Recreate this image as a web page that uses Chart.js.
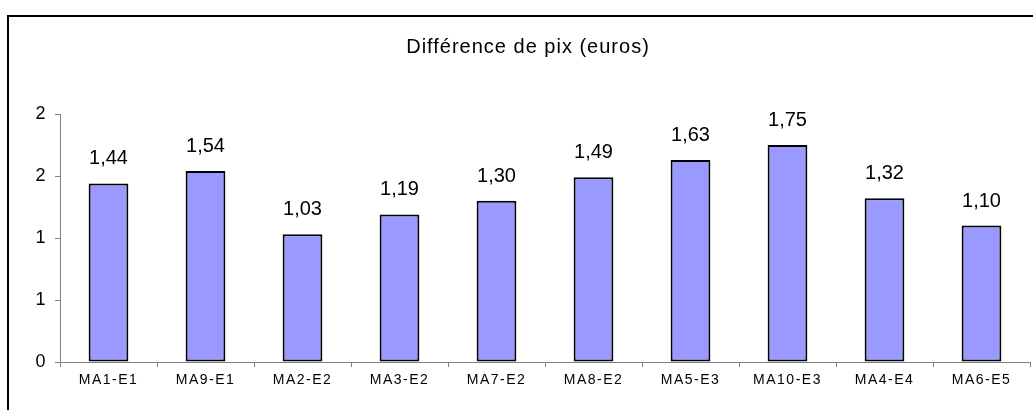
<!DOCTYPE html>
<html>
<head>
<meta charset="utf-8">
<script src="https://cdn.jsdelivr.net/npm/chart.js@4.4.0/dist/chart.umd.min.js"></script>
<style>
  html, body { margin: 0; padding: 0; background: #fff; overflow: hidden; width: 1033px; height: 410px; }
  #frame { position: absolute; left: 7px; top: 15px; width: 1100px; height: 500px; border: 2px solid #000; box-sizing: border-box; }
  #wrap { position: absolute; left: 0; top: 0; width: 1033px; height: 410px; }
</style>
</head>
<body>
<div id="frame"></div>
<div id="wrap"><canvas id="c" width="1033" height="410"></canvas></div>
<script>
const categories = ['MA1-E1', 'MA9-E1', 'MA2-E2', 'MA3-E2', 'MA7-E2', 'MA8-E2', 'MA5-E3', 'MA10-E3', 'MA4-E4', 'MA6-E5'];
const values = [1.44, 1.54, 1.03, 1.19, 1.30, 1.49, 1.63, 1.75, 1.32, 1.10];
const tickValues = [0, 0.5, 1, 1.5, 2];
const tickLabels = ['0', '1', '1', '2', '2'];
const chartTitle = 'Différence de pix (euros)';

const FONT = '"Liberation Sans", Arial, sans-serif';

const deco = {
  id: 'deco',
  beforeDraw(chart) {
    chart.ctx.letterSpacing = '1.5px';
  },
  afterDatasetsDraw(chart) {
    const ctx = chart.ctx;
    ctx.save();
    ctx.letterSpacing = '0px';
    ctx.fillStyle = '#000';
    ctx.font = '20px ' + FONT;
    ctx.textAlign = 'center';
    ctx.textBaseline = 'alphabetic';
    const meta = chart.getDatasetMeta(0);
    meta.data.forEach((bar, i) => {
      const txt = values[i].toFixed(2).replace('.', ',');
      ctx.fillText(txt, bar.x, bar.y - 19);
    });
    ctx.letterSpacing = '1px';
    ctx.font = '20px ' + FONT;
    ctx.fillText(chartTitle, 528, 53);
    ctx.restore();
  }
};

new Chart(document.getElementById('c'), {
  type: 'bar',
  data: {
    labels: categories,
    datasets: [{
      data: values,
      backgroundColor: '#9999FF',
      borderColor: '#000000',
      borderWidth: 2,
      borderSkipped: false,
      barPercentage: 0.41,
      categoryPercentage: 1.0
    }]
  },
  options: {
    responsive: false,
    animation: false,
    devicePixelRatio: 1,
    layout: { padding: { left: 0, right: 3, top: 114, bottom: 0 } },
    plugins: {
      legend: { display: false },
      title: { display: false },
      tooltip: { enabled: false }
    },
    scales: {
      x: {
        offset: true,
        grid: {
          display: true,
          offset: true,
          drawOnChartArea: false,
          drawTicks: true,
          tickLength: 5,
          color: '#808080'
        },
        border: { display: true, color: '#808080', width: 1 },
        ticks: {
          color: '#000',
          font: { family: FONT, size: 14 },
          padding: 5,
          maxRotation: 0,
          autoSkip: false
        },
        afterFit(scale) { scale.height = 48; }
      },
      y: {
        min: 0,
        max: 2,
        afterBuildTicks(scale) { scale.ticks = tickValues.map(v => ({ value: v })); },
        grid: {
          display: true,
          drawOnChartArea: false,
          drawTicks: true,
          tickLength: 5,
          color: '#808080'
        },
        border: { display: true, color: '#808080', width: 1 },
        ticks: {
          color: '#000',
          font: { family: FONT, size: 18 },
          padding: 8,
          callback: (v, i) => tickLabels[i]
        },
        afterFit(scale) { scale.width = 60; }
      }
    }
  },
  plugins: [deco]
});
</script>
</body>
</html>
